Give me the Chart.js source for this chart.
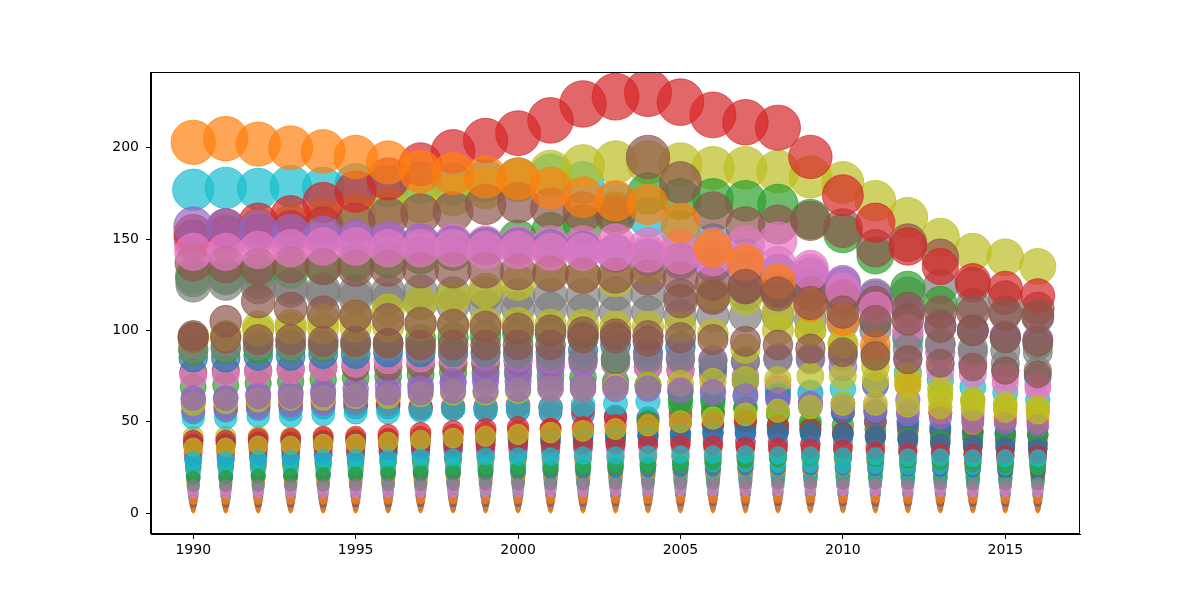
<!DOCTYPE html>
<html>
<head>
    <title>Bubbles per year</title>
    <style>
        body {
            margin: 0;
            background: #ffffff;
        }
    </style>
</head>
<body>
    <canvas id="bubbleChart" width="1200" height="600"></canvas>

    <script src="https://cdn.jsdelivr.net/npm/chart.js"></script>
    <script>
        const years = [1990, 1991, 1992, 1993, 1994, 1995, 1996, 1997, 1998, 1999, 2000, 2001, 2002,
                       2003, 2004, 2005, 2006, 2007, 2008, 2009, 2010, 2011, 2012, 2013, 2014, 2015, 2016];
        const xTicks = [1990, 1995, 2000, 2005, 2010, 2015];
        const yTicks = [0, 50, 100, 150, 200];

        // one array per series, in plotting order (colours cycle through tab10)
        const s00 = [1.2,1.2,1.2,1.3,1.3,1.3,1.3,1.4,1.4,1.4,1.4,1.5,1.5,1.5,1.5,1.6,1.6,1.6,1.6,1.6,1.5,1.5,1.5,1.5,1.4,1.4,1.4];
        const s01 = [0.4,0.4,0.4,0.4,0.4,0.4,0.5,0.5,0.5,0.5,0.5,0.5,0.5,0.5,0.5,0.5,0.5,0.5,0.5,0.5,0.5,0.5,0.5,0.5,0.5,0.5,0.5];
        const s02 = [12,12,12,12,12,12.5,12.5,13,13,13,13,13.5,13.5,14,14,14,14.5,14.5,15,15,15,15,15,14.5,14.5,14.5,14];
        const s03 = [6.5,6.5,6.6,6.6,6.7,6.8,6.8,6.9,7,7,7.1,7.2,7.2,7.3,7.4,7.5,7.5,7.6,7.6,7.5,7.4,7.3,7.2,7.1,7,7,6.9];
        const s04 = [16,16,16.5,16.5,17,17,17.5,17.5,18,18,18.5,19,19,19.5,20,20,20.5,21,21,21,20.5,20,20,19.5,19,19,18.5];
        const s05 = [2.5,2.5,2.5,2.6,2.6,2.6,2.7,2.7,2.8,2.8,2.8,2.9,2.9,3,3,3,3.1,3.1,3.1,3,3,3,3,2.9,2.9,2.9,2.8];
        const s06 = [22,22,22,22.5,22.5,23,23,23,23.5,23.5,24,24,24.5,24.5,25,25,25,25,24.5,24.5,24,24,23.5,23.5,23,23,23];
        const s07 = [4,4,4,4.1,4.1,4.2,4.2,4.3,4.3,4.4,4.4,4.5,4.5,4.6,4.6,4.7,4.7,4.8,4.8,4.8,4.7,4.7,4.6,4.6,4.5,4.5,4.5];
        const s08 = [25,25,25,25.5,25.5,24,23,23,22,22,22,25,25,26,26,25,24,24,24,23,23,22,22,21,21,21,20];
        const s09 = [19,19,19.5,19.5,20,20,20,20.5,20.5,21,21,21,21.5,21.5,22,22,22,22,21.5,21.5,21,21,20.5,20.5,20,20,20];

        const s10 = [9,9,9,9.2,9.2,9.4,9.4,9.6,9.6,9.8,9.8,10,10,10.2,10.4,10.6,10.8,11,11,11,10.8,10.8,10.6,10.6,10.4,10.4,10.2];
        const s11 = [1.8,1.8,1.8,1.9,1.9,1.9,2,2,2,2,2.1,2.1,2.1,2.2,2.2,2.2,2.3,2.3,2.3,2.3,2.2,2.2,2.2,2.2,2.1,2.1,2.1];
        const s12 = [14.5,14.5,15,15,15.5,15.5,16,16,16.5,16.5,17,17,17.5,17.5,18,18,18.5,18.5,19,19,19,19,18.5,18.5,18,18,18];
        const s13 = [33,33,33,33.5,33.5,34,34,34.5,35,35,35.5,36,36,36.5,37,37.5,38,38,37.5,37,36,35,34,33,32,31,30];
        const s14 = [28,28,28,28.5,28.5,29,29,29,29.5,29.5,30,30,30.5,30.5,31,31,31,31,30.5,30.5,30,30,29.5,29.5,29,29,28.5];
        const s15 = [5,5,5,5.1,5.1,5.2,5.2,5.3,5.4,5.5,5.6,5.7,5.8,5.9,6,6,6.1,6.1,6.1,6,6,5.9,5.9,5.8,5.8,5.7,5.7];
        const s16 = [31,31,31.5,31.5,32,32,32.5,32.5,33,33,33.5,34,34,34.5,35,35,35,35,34.5,34,33.5,33,32.5,32,31.5,31,31];
        const s17 = [40,40,40,40,40,40,40,40,40,40,40,40,40,40,40,40,40,39,39,38,38,37,37,36,36,35,35];
        const s18 = [42,42,42,41.5,41.5,41,41,40.5,40,40,39.5,39,38.5,38,37.5,37,36.5,36,35.5,35,34.5,34,33.5,33,32.5,32,32];
        const s19 = [177,178,177.5,179,178,180,179,181,180,182,183,185,181,170,162,155,148,140,132,124,115,105,95,88,82,78,74];

        const s20 = [55,56,57,57,58,58,58,57,57,56,56,55,54,53,52,50,48,47,46,45,44,43,42,41,40,39,38];
        const s21 = [33,34,35,36,37,37,37,38,39,41,42,43,43,44,45,43,41,40,39,38,37,36,34,33,32,31,30];
        const s22 = [69,70,71,72,73,74,75,76,77,77,76,75,74,72,70,66,62,58,54,50,48,46,45,44,44,43,43];
        const s23 = [60,58,60,60,61,60,60,58,58,58,59,58,57,52,50,54,55,52,45,38,31,28,27,27,28,28,27];
        const s24 = [62,63,65,66,67,68,70,70,71,72,72,71,70,70,69,68,67,65,62,60,58,50,46,45,44,43,42];
        const s25 = [77,78,78,79,80,80,80,81,82,82,83,83,84,82,80,78,76,72,68,60,55,50,48,45,42,40,38];
        const s26 = [75,76,77,78,80,82,84,85,86,86,85,84,83,82,80,79,78,75,70,65,60,58,56,55,54,53,52];
        const s27 = [130,129,127,124,122,121,121,121,120,120,119,119,119,120,120,119,119,120,121,120,119,119,120,124,114,110,107];
        const s28 = [150,153,156,158,161,164,167,170,174,178,182,187,190,192,192,191,189,189,187,184,181,171,162,151,143,140,135];
        const s29 = [52,52,53,53,54,55,55,56,57,57,58,58,59,60,61,62,63,64,65,66,68,70,77,73,69,66,62];

        const s30 = [85,85,86,86,87,87,88,88,88,88,88,88,89,92,88,91,80,73,64,58,55,55,50,47,45,44,43];
        const s31 = [17,17,17.5,17.5,18,18,18.5,18.5,19,19,19.5,20,20,20.5,21,21.5,22,22.5,23,23.5,24,24.5,25,25,25,25,25];
        const s32 = [128,130,132,133,135,137,139,141,143,146,150,154,158,165,175,172,172,171,169,161,153,141,123,115,100,96,92];
        const s33 = [40,40,41,41,42,42,43,44,45,46,47,46,45,44,42,40,38,36,34,32,30,28,26,25,24,23,22];
        const s34 = [56,57,58,59,60,62,64,68,72,75,78,80,82,84,86,85,84,83,85,84,80,70,62,55,52,50,47];
        const s35 = [150,152,153,155,157,159,162,164,165,169,170,167,165,163,195,181,165,157,158,160,156,145,148,140,125,118,112];
        const s36 = [148,149,150,150,150,149,149,148,148,147,147,147,147,148,146,145,146,147,149,134,125,114,85,78,76,71,68];
        const s37 = [125,126,124,122,120,118,117,115,114,113,112,112,111,110,110,108,108,108,108,106,104,100,97,93,88,82,78];
        const s38 = [95,97,102,103,106,108,111,115,118,122,126,132,130,128,135,140,120,118,110,100,92,80,72,68,62,58,57];
        const s39 = [14,14,14,14.5,14.5,15,15,15.5,15.5,16,16,16.5,16.5,17,17,17.5,17.5,18,18,18,17.5,17.5,17,17,16.5,16.5,16];

        const s40 = [38,38,38.5,38.5,39,39,39.5,40,40,40.5,41,41.5,42,42.5,43,43.5,44,44,44,43.5,42,41,40,39,38,37,36];
        const s41 = [26,26,26.5,26.5,27,27,27.5,27.5,28,28,28.5,29,29,29.5,30,30,30.5,30.5,30,29.5,29,28.5,28,27.5,27,27,26.5];
        const s42 = [89,90,90,91,91,92,93,95,96,97,98,98,97,84,70,62,60,57,55,48,43,42,41,40,41,42,43];
        const s43 = [153,156,159,163,170,176,183,191,198,204,208,215,224,228,230,225,218,214,211,195,174,159,146,135,127,123,119];
        const s44 = [157,156,155,153,152,150,149,148,147,146,146,145,144,142,140,138,136,134,132,130,126,118,110,103,100,97,95];
        const s45 = [137,136,135,136,135,134,134,133,133,133,132,131,130,130,129,128,126,124,122,120,118,115,112,110,110,109,108];
        const s46 = [143,143,144,145,146,146,145,145,145,144,144,143,143,143,142,141,140,138,136,132,122,112,100,88,82,75,70];
        const s47 = [90,91,92,92,92,92,92,90,88,88,87,86,85,85,84,84,83,83,84,85,86,88,90,92,90,89,88];
        const s48 = [96,97,100,101,101,102,102,103,103,104,104,103,103,102,102,102,98,90,100,100,93,85,75,65,62,60,58];
        const s49 = [10,10,10,10.2,10.2,10.4,10.4,10.6,10.6,10.8,10.8,11,11,11.2,11.2,11.4,11.4,11.6,11.6,11.6,11.4,11.4,11.2,11.2,11,11,11];

        const s50 = [20,20,20.5,20.5,21,21,21.5,21.5,22,22,22.5,23,23,23.5,24,24,24.5,25,25,25,25,24.5,24.5,24,24,23.5,23.5];
        const s51 = [203,205,202,200,198,195,192,187,186,184,183,178,173,171,169,159,145,137,127,114,106,92,70,55,49,52,50];
        const s52 = [25,26,26,27,27,28,28,29,30,31,32,34,36,40,50,58,55,50,48,46,44,42,40,38,36,35,33];
        const s53 = [38,38,39,39,40,40,41,42,43,44,45,46,47,48,48,49,49,50,48,46,44,42,40,38,37,36,35];
        const s54 = [30,30,31,31,32,32,33,33,34,34,35,35,36,37,38,38,39,39,38,37,36,35,34,33,32,31,31];
        const s55 = [96,96,95,95,94,94,93,92,92,92,92,92,96,96,94,116,118,124,120,115,110,105,106,102,100,96,94];
        const s56 = [13,13,13,13.5,13.5,14,14,14,14.5,14.5,15,15,15.5,15.5,16,16,16,16,15.5,15.5,15,15,14.5,14.5,14,14,14];
        const s57 = [8,8,8,8.2,8.2,8.4,8.4,8.6,8.6,8.8,8.8,9,9,9.2,9.2,9.4,9.4,9.6,9.6,9.6,9.4,9.4,9.2,9.2,9,9,9];
        const s58 = [60,61,62,63,63,64,64,65,66,66,67,68,68,69,70,71,72,73,73,75,75,73,70,63,60,57,55];
        const s59 = [24,24,24.5,24.5,25,25,25,25.5,25.5,26,26,26.5,26.5,27,27,27,27,27,26.5,26.5,26,26,25.5,25.5,25,25,25];

        const s60 = [30,30,31,31,32,33,34,35,36,37,38,39,40,41,42,43,44,44,44,44,43,42,40,38,37,36,35];
        const s61 = [7,7,7,7.1,7.1,7.2,7.2,7.3,7.3,7.4,7.4,7.5,7.5,7.6,7.6,7.7,7.7,7.8,7.8,7.8,7.7,7.7,7.6,7.6,7.5,7.5,7.5];
        const s62 = [19,19.5,20,20.5,21,21.5,22,22.5,23,23.5,24,24.5,25,25.5,26,27,28,29,30,31,31,30,29,28,27,26,25];
        const s63 = [36,36,36,36,36.5,36.5,37,37,37.5,37.5,38,38,38,38,38,37.5,37,36.5,36,35.5,35,34,33.5,33,32.5,32,32];
        const s64 = [63,63,64,64,65,65,66,66,67,67,68,68,68,68,68,67,66,64,62,60,58,56,54,52,50,49,48];
        const s65 = [97,105,116,112,110,108,106,104,103,102,101,100,99,98,97,96,95,94,92,90,88,86,84,82,80,78,76];
        const s66 = [11,11,11,11.2,11.2,11.4,11.4,11.6,11.6,11.8,11.8,12,12,12.2,12.2,12.4,12.4,12.6,12.6,12.6,12.4,12.4,12.2,12.2,12,12,12];
        const s67 = [15,15,15,15.2,15.2,15.4,15.4,15.6,15.6,15.8,15.8,16,16,16.2,16.2,16.4,16.4,16.6,16.6,16.6,16.4,16.4,16.2,16.2,16,16,16];
        const s68 = [36,36,37,37,38,38,39,40,41,42,43,44,45,46,48,50,52,54,56,58,60,60,59,58,57,56,55];
        const s69 = [29,29,29.5,29.5,30,30,30,30.5,30.5,31,31,31,31.5,31.5,32,32,32,32,31.5,31.5,31,31,30.5,30.5,30,30,30];

        const allSeries = [
            s00, s01, s02, s03, s04, s05, s06, s07, s08, s09,
            s10, s11, s12, s13, s14, s15, s16, s17, s18, s19,
            s20, s21, s22, s23, s24, s25, s26, s27, s28, s29,
            s30, s31, s32, s33, s34, s35, s36, s37, s38, s39,
            s40, s41, s42, s43, s44, s45, s46, s47, s48, s49,
            s50, s51, s52, s53, s54, s55, s56, s57, s58, s59,
            s60, s61, s62, s63, s64, s65, s66, s67, s68, s69
        ];

        // matplotlib tab10
        const tab10 = [
            [31, 119, 180], [255, 127, 14], [44, 160, 44], [214, 39, 40], [148, 103, 189],
            [140, 86, 75], [227, 119, 194], [127, 127, 127], [188, 189, 34], [23, 190, 207]
        ];

        // marker area ~ 5 * value (pt^2) -> radius in px at 100 dpi
        function radiusFor(v) {
            return Math.sqrt(5 * v) / 2 * (100 / 72);
        }

        const datasets = allSeries.map((vals, i) => {
            const c = tab10[i % 10];
            const col = `rgba(${c[0]}, ${c[1]}, ${c[2]}, 0.7)`;
            return {
                label: 'series ' + i,
                data: vals.map((v, j) => ({ x: years[j], y: v, r: radiusFor(v) })),
                backgroundColor: col,
                borderColor: col,
                borderWidth: 1,
                hoverRadius: 0,
                order: -i,
                clip: 0
            };
        });

        const frame = {
            id: 'frame',
            afterDraw(chart) {
                const a = chart.chartArea;
                const ctx = chart.ctx;
                ctx.save();
                ctx.strokeStyle = '#000';
                ctx.lineWidth = 1;
                ctx.strokeRect(Math.round(a.left) - 0.5, Math.round(a.top) + 0.5,
                               Math.round(a.right - a.left), Math.round(a.bottom - a.top) - 1);
                ctx.restore();
            }
        };

        const tickFont = { family: 'DejaVu Sans', size: 14 };

        new Chart(document.getElementById('bubbleChart'), {
            type: 'bubble',
            data: { datasets: datasets },
            options: {
                responsive: false,
                animation: false,
                devicePixelRatio: 1,
                events: [],
                layout: { padding: { left: 0, top: 72, right: 120, bottom: 0 } },
                plugins: {
                    legend: { display: false },
                    tooltip: { enabled: false }
                },
                scales: {
                    x: {
                        type: 'linear',
                        min: 1988.7,
                        max: 2017.3,
                        afterBuildTicks: (scale) => { scale.ticks = xTicks.map(v => ({ value: v })); },
                        afterFit: (scale) => { scale.height = 66; },
                        grid: { display: true, drawOnChartArea: false, drawTicks: true, tickLength: 5, color: '#000' },
                        border: { display: true, color: '#000', width: 1 },
                        ticks: { font: tickFont, color: '#000', padding: 3, maxRotation: 0, callback: (v) => String(v) }
                    },
                    y: {
                        type: 'linear',
                        min: -11.5,
                        max: 241.5,
                        afterBuildTicks: (scale) => { scale.ticks = yTicks.map(v => ({ value: v })); },
                        afterFit: (scale) => { scale.width = 151; },
                        grid: { display: true, drawOnChartArea: false, drawTicks: true, tickLength: 5, color: '#000' },
                        border: { display: true, color: '#000', width: 1 },
                        ticks: { font: tickFont, color: '#000', padding: 7, callback: (v) => String(v) }
                    }
                }
            },
            plugins: [frame]
        });
    </script>
</body>
</html>
